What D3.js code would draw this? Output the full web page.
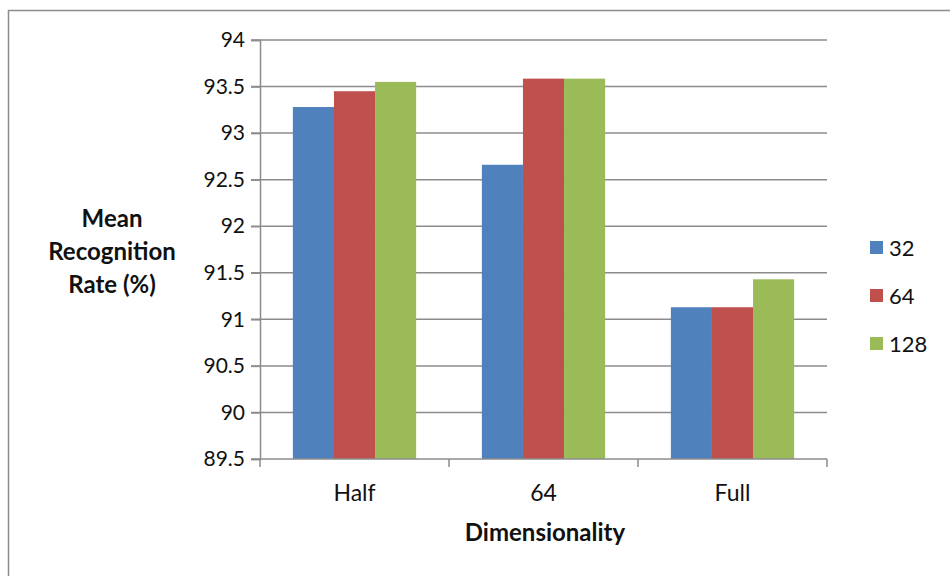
<!DOCTYPE html>
<html><head><meta charset="utf-8">
<script src="https://cdn.jsdelivr.net/npm/d3@7"></script>
<style>body{margin:0;background:#fff;}svg{display:block;}</style>
</head><body>
<svg id="c" width="950" height="576"></svg>
<script>
const categories = ["Half", "64", "Full"];
const seriesNames = ["32", "64", "128"];
const values32 = [93.28, 92.66, 91.13];
const values64 = [93.45, 93.585, 91.13];
const values128 = [93.55, 93.585, 91.43];
const yTicks = [89.5, 90, 90.5, 91, 91.5, 92, 92.5, 93, 93.5, 94];
const colors = ["#4F81BD", "#C0504D", "#9BBB59"];
const seriesValues = [values32, values64, values128];

(function () {
const svg = d3.select("#c");
const font = "Lato, 'Open Sans', sans-serif";
// outer frame
svg.append("rect").attr("x", 8.5).attr("y", 10.5).attr("width", 960).attr("height", 600)
  .attr("fill", "none").attr("stroke", "#8c8c8c").attr("stroke-width", 1.5);

const pLeft = 260, pRight = 827, pTop = 40, pBottom = 459;
const y = d3.scaleLinear().domain([89.5, 94]).range([pBottom, pTop]);
const x0 = d3.scaleBand().domain(categories).range([pLeft, pRight]).paddingInner(0).paddingOuter(0);
const x1 = d3.scaleBand().domain(seriesNames).range([0, x0.bandwidth()]).paddingInner(0).paddingOuter(0.8);

// gridlines
svg.append("g").selectAll("line").data(yTicks.filter(t => t > 89.5)).join("line")
  .attr("x1", pLeft - 9).attr("x2", pRight).attr("y1", d => y(d)).attr("y2", d => y(d))
  .attr("stroke", "#8c8c8c").attr("stroke-width", 1.5);

// bars
const g = svg.append("g");
categories.forEach((c, i) => {
  seriesNames.forEach((s, j) => {
    g.append("rect")
      .attr("x", x0(c) + x1(s)).attr("width", x1.bandwidth())
      .attr("y", y(seriesValues[j][i])).attr("height", pBottom - y(seriesValues[j][i]))
      .attr("fill", colors[j]);
  });
});

// y axis
const ya = svg.append("g").attr("transform", `translate(${pLeft},0)`)
  .call(d3.axisLeft(y).tickValues(yTicks).tickFormat(d3.format("")).tickSize(9).tickPadding(6));
ya.select(".domain").attr("stroke", "#8c8c8c").attr("stroke-width", 1.5);
ya.selectAll(".tick line").attr("stroke", "#8c8c8c").attr("stroke-width", 1.5);
ya.selectAll("text").attr("font-family", font).attr("font-size", 21).attr("fill", "#111");

// x axis
const xa = svg.append("g").attr("transform", `translate(0,${pBottom})`);
xa.append("line").attr("x1", pLeft - 9).attr("x2", pRight).attr("y1", 0).attr("y2", 0)
  .attr("stroke", "#8c8c8c").attr("stroke-width", 1.5);
const bounds = categories.map(c => x0(c)).concat([pRight]);
xa.selectAll("line.tk").data(bounds).join("line").attr("class", "tk")
  .attr("x1", d => d).attr("x2", d => d).attr("y1", 0).attr("y2", 8)
  .attr("stroke", "#8c8c8c").attr("stroke-width", 1.5);
xa.selectAll("text").data(categories).join("text")
  .attr("x", d => x0(d) + x0.bandwidth() / 2).attr("y", 42)
  .attr("text-anchor", "middle").attr("font-family", font).attr("font-size", 23).attr("fill", "#111")
  .text(d => d);

// axis titles
svg.append("text").attr("x", 545).attr("y", 541).attr("text-anchor", "middle")
  .attr("font-family", font).attr("font-size", 24).attr("font-weight", "bold").attr("fill", "#111")
  .text("Dimensionality");
const yt = svg.append("text").attr("text-anchor", "middle")
  .attr("font-family", font).attr("font-size", 24).attr("font-weight", "bold").attr("fill", "#111");
["Mean", "Recognition", "Rate (%)"].forEach((t, i) => {
  yt.append("tspan").attr("x", 112).attr("y", 227 + i * 33).text(t);
});

// legend
const lg = svg.append("g");
seriesNames.forEach((s, i) => {
  lg.append("rect").attr("x", 870).attr("y", 241 + i * 48).attr("width", 13).attr("height", 13).attr("fill", colors[i]);
  lg.append("text").attr("x", 889).attr("y", 256 + i * 48).attr("font-family", font)
    .attr("font-size", 22).attr("fill", "#111").text(s);
});
})();
</script>
</body></html>
